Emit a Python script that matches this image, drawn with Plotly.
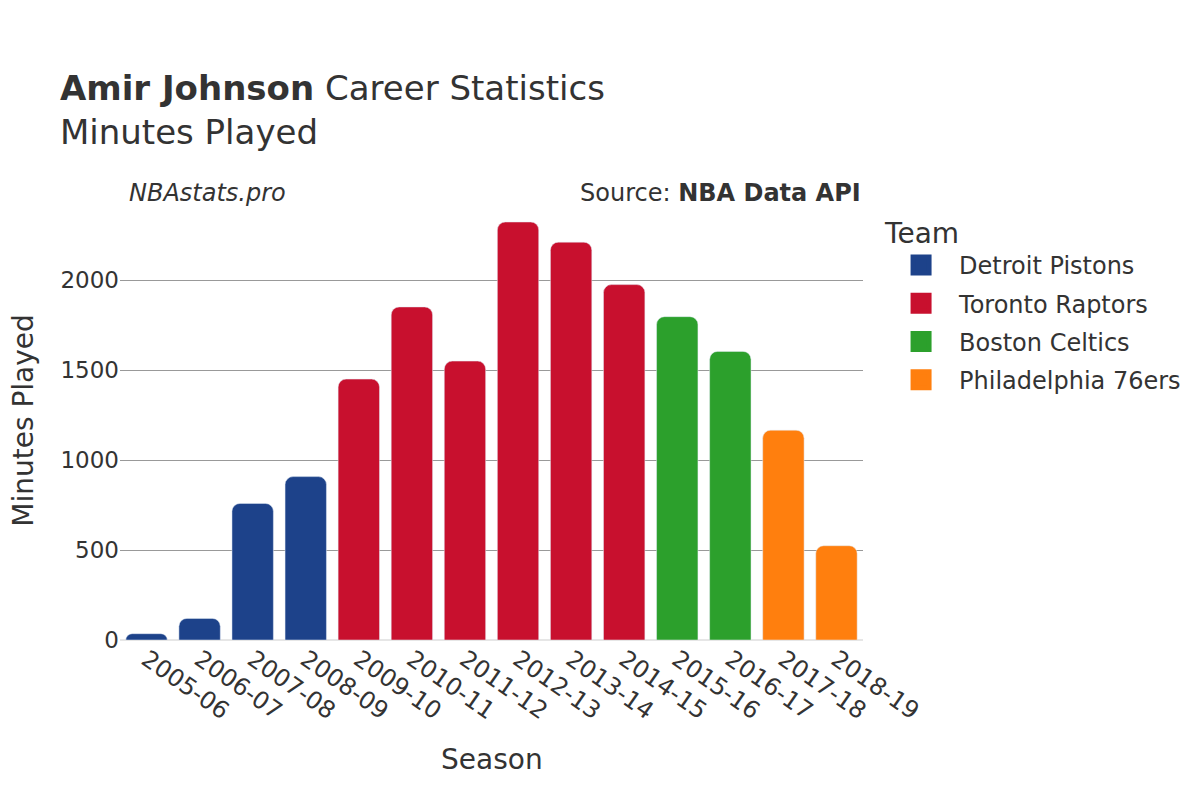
import plotly.graph_objects as go

seasons = ["2005-06", "2006-07", "2007-08", "2008-09", "2009-10", "2010-11", "2011-12",
           "2012-13", "2013-14", "2014-15", "2015-16", "2016-17", "2017-18", "2018-19"]
teams = ["Detroit Pistons", "Detroit Pistons", "Detroit Pistons", "Detroit Pistons",
         "Toronto Raptors", "Toronto Raptors", "Toronto Raptors", "Toronto Raptors",
         "Toronto Raptors", "Toronto Raptors", "Boston Celtics", "Boston Celtics",
         "Philadelphia 76ers", "Philadelphia 76ers"]
minutes = [35, 120, 759, 908, 1450, 1851, 1550, 2323, 2211, 1975, 1797, 1604, 1166, 524]

team_order = ["Detroit Pistons", "Toronto Raptors", "Boston Celtics", "Philadelphia 76ers"]
team_colors = {"Detroit Pistons": "#1d428a", "Toronto Raptors": "#c8102e",
               "Boston Celtics": "#2ca02c", "Philadelphia 76ers": "#ff7f0e"}

FONT = "DejaVu Sans"
fig = go.Figure()
for t in team_order:
    xs = [s for s, tm in zip(seasons, teams) if tm == t]
    ys = [m for m, tm in zip(minutes, teams) if tm == t]
    c = team_colors[t]
    fig.add_trace(go.Bar(x=xs, y=ys, name=t, marker_color=c, legendgroup=t, showlegend=False))
    # legend-only entry with a larger square swatch
    fig.add_trace(go.Scatter(x=[None], y=[None], mode="markers", name=t, legendgroup=t,
                             marker=dict(symbol="square", size=16, color=c,
                                         line=dict(color=c, width=5)),
                             hoverinfo="skip"))

fig.update_layout(
    width=1200, height=800,
    font=dict(family=FONT, color="#333333", size=24),
    paper_bgcolor="white", plot_bgcolor="white",
    margin=dict(l=112, r=345, t=192, b=168),
    title=dict(text="<b>Amir Johnson</b> Career Statistics<br>Minutes Played",
               x=0.0433, xanchor="left", y=0.885, yanchor="top",
               font=dict(size=34, family=FONT, color="#333333")),
    barmode="relative", bargap=0.22, barcornerradius=8,
    legend=dict(title=dict(text="Team", font=dict(size=28)), x=1.027, xanchor="left",
                y=0.985, yanchor="top", font=dict(size=24), tracegroupgap=4, itemwidth=66),
    xaxis=dict(type="category", categoryorder="array", categoryarray=seasons, tickangle=35,
               tickfont=dict(size=24), showgrid=False, showline=False, automargin=False),
    yaxis=dict(tickfont=dict(size=23),
               gridcolor="#999999", gridwidth=1, zeroline=True, zerolinecolor="#e6e6e6",
               zerolinewidth=2, tickvals=[0, 500, 1000, 1500, 2000], automargin=False),
    annotations=[
        dict(text="<i>NBAstats.pro</i>", x=0.01, xref="paper", y=1.0, yref="paper",
             xanchor="left", yanchor="bottom", yshift=-9, showarrow=False, font=dict(size=24)),
        dict(text="Source: <b>NBA Data API</b>", x=1.0, xref="paper", y=1.0, yref="paper",
             xanchor="right", yanchor="bottom", yshift=-9, showarrow=False, font=dict(size=24)),
        dict(text="Season", x=0.5, xref="paper", y=-0.2727, yref="paper",
             xanchor="center", yanchor="middle", showarrow=False, font=dict(size=28)),
        dict(text="Minutes Played", x=-0.131, xref="paper", y=0.5, yref="paper", textangle=-90,
             xanchor="center", yanchor="middle", showarrow=False, font=dict(size=28)),
    ],
)
fig.write_html("out.html")
